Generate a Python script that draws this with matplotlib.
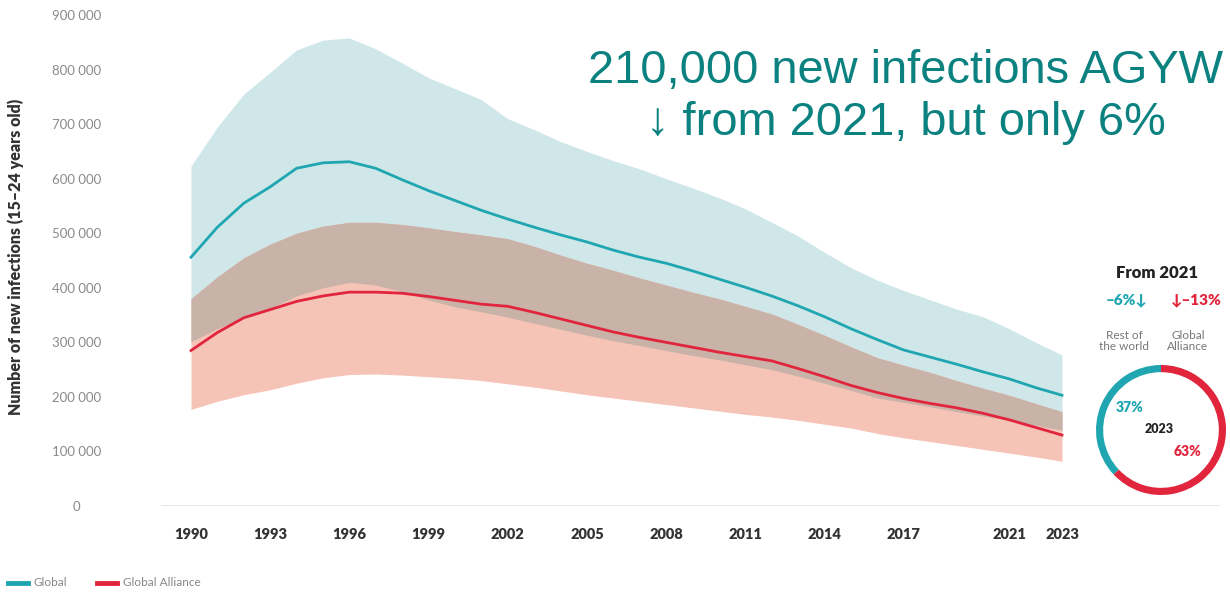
import numpy as np
import matplotlib
matplotlib.use("Agg")
import matplotlib.pyplot as plt

W, H = 1230, 592

years = np.arange(1990, 2024)

# new infections among 15-24 year olds, thousands
global_mid = [456, 511, 555, 585, 619, 629, 631, 619, 598, 578, 560, 542, 526, 511, 497, 484, 469, 456, 445, 431, 416, 401, 385, 367, 347, 325, 305, 286, 273, 260, 246, 233, 217, 203]
global_hi = [623, 695, 755, 795, 836, 854, 858, 838, 812, 785, 765, 745, 710, 690, 668, 650, 633, 618, 600, 583, 565, 545, 520, 495, 465, 437, 414, 395, 378, 361, 347, 325, 300, 277]
global_lo = [301, 325, 345, 362, 385, 400, 410, 405, 393, 378, 365, 356, 346, 335, 324, 313, 303, 294, 285, 276, 268, 259, 250, 238, 225, 212, 198, 190, 182, 173, 165, 157, 148, 139]

alliance_mid = [285, 318, 345, 360, 375, 385, 392, 392, 390, 384, 377, 370, 366, 355, 343, 331, 319, 309, 300, 291, 282, 274, 266, 252, 237, 221, 208, 197, 188, 180, 170, 158, 144, 130]
alliance_hi = [380, 420, 455, 480, 500, 513, 520, 520, 516, 510, 503, 497, 490, 476, 460, 445, 432, 418, 405, 392, 380, 366, 352, 333, 313, 292, 272, 258, 245, 230, 216, 203, 188, 173]
alliance_lo = [177, 192, 204, 213, 225, 235, 241, 242, 240, 237, 234, 230, 224, 218, 211, 204, 198, 192, 186, 180, 174, 168, 163, 157, 150, 143, 133, 125, 118, 111, 104, 97, 90, 82]

tick_years = [1990, 1993, 1996, 1999, 2002, 2005, 2008, 2011, 2014, 2017, 2021, 2023]
y_ticks = [0, 100000, 200000, 300000, 400000, 500000, 600000, 700000, 800000, 900000]

share_labels = ["Rest of\nthe world", "Global\nAlliance"]
share_2023 = [37, 63]
change_2021 = [-6, -13]

TEAL = "#1fa6b0"
RED = "#e1253d"
TEAL_BAND = "#d0e7ea"
RED_BAND = "#f6c3b7"
OVERLAP = "#c9b2a8"
TITLE = "#0b8280"

plt.rcParams['font.family'] = ['Lato', 'DejaVu Sans']


def fx(x):
    return x / W


def fy(y):
    return 1 - y / H


g_mid = np.array(global_mid) * 1000
g_hi = np.array(global_hi) * 1000
g_lo = np.array(global_lo) * 1000
a_mid = np.array(alliance_mid) * 1000
a_hi = np.array(alliance_hi) * 1000
a_lo = np.array(alliance_lo) * 1000

fig = plt.figure(figsize=(W / 100, H / 100), dpi=100)

# main axes: 1990 -> x=191px, 2023 -> x=1062px; 0 -> y=506px, 900k -> y=15px
x0, x1 = 161, 1220
px_per_year = (1062 - 191) / 33
xmin = 1990 - (191 - x0) / px_per_year
xmax = 2023 + (x1 - 1062) / px_per_year
ax = fig.add_axes([fx(x0), fy(506), (x1 - x0) / W, (506 - 15) / H])
ax.set_xlim(xmin, xmax)
ax.set_ylim(0, 900000)

ax.fill_between(years, g_lo, g_hi, color=TEAL_BAND, lw=0, zorder=1)
ax.fill_between(years, a_lo, a_hi, color=RED_BAND, lw=0, zorder=1)
ov_lo = np.maximum(g_lo, a_lo)
ov_hi = np.minimum(g_hi, a_hi)
ax.fill_between(years, ov_lo, ov_hi, where=ov_hi > ov_lo, color=OVERLAP, lw=0, zorder=2)

ax.plot(years, g_mid, color=TEAL, lw=2, zorder=3)
ax.plot(years, a_mid, color=RED, lw=2, zorder=3)

ax.axhline(0, color="#e3e3e3", lw=2, zorder=0)

for s in ax.spines.values():
    s.set_visible(False)

ax.set_xticks(tick_years)
ax.set_xticklabels([str(t) for t in tick_years], fontsize=10.5, fontweight='heavy', color="#333333")
ax.tick_params(axis='x', length=0, pad=16)

ax.set_yticks(y_ticks)
ax.set_yticklabels([f"{v:,}".replace(",", " ") for v in y_ticks], fontsize=9.5, color="#8a8a8a", ha='center')
ax.tick_params(axis='y', length=0, pad=61)

fig.text(fx(16), fy(257), "Number of new infections (15\u201324 years old)", rotation=90,
         ha='center', va='center', fontsize=11.5, fontweight='heavy', color="#333333")

# headline
fig.text(fx(906), fy(97), "210,000 new infections AGYW\n\u2193 from 2021, but only 6%",
         ha='center', va='center', fontsize=33.8, color=TITLE, linespacing=1.22,
         family=['Liberation Sans', 'DejaVu Sans'])

# 2023 split ring
cx, cy, r = 1161, 430, 65
dax = fig.add_axes([fx(cx - r), fy(cy + r), 2 * r / W, 2 * r / H])
dax.pie(share_2023, colors=[TEAL, RED], startangle=90, counterclock=True, radius=1,
        wedgeprops=dict(width=0.11, linewidth=0))
dax.set_xlim(-1, 1)
dax.set_ylim(-1, 1)
dax.axis('off')

fig.text(fx(1157), fy(273), "From 2021", ha='center', va='center', fontsize=12,
         fontweight='heavy', color="#222222")
fig.text(fx(1127), fy(300), f"\u2013{abs(change_2021[0])}%\u2193", ha='center', va='center',
         fontsize=11, fontweight='heavy', color=TEAL)
fig.text(fx(1196), fy(300), f"\u2193\u2013{abs(change_2021[1])}%", ha='center', va='center',
         fontsize=11, fontweight='heavy', color=RED)
fig.text(fx(1124), fy(341), share_labels[0], ha='center', va='center', fontsize=8.5,
         color="#777777", linespacing=1.1)
fig.text(fx(1188), fy(341), share_labels[1], ha='center', va='center', fontsize=8.5,
         color="#777777", linespacing=1.1)
fig.text(fx(1130), fy(408), f"{share_2023[0]}%", ha='center', va='center', fontsize=10,
         fontweight='heavy', color=TEAL)
fig.text(fx(1159), fy(429), "2023", ha='center', va='center', fontsize=9,
         fontweight='heavy', color="#222222")
fig.text(fx(1188), fy(451), f"{share_2023[1]}%", ha='center', va='center', fontsize=10,
         fontweight='heavy', color=RED)

# legend
fig.add_artist(plt.Line2D([fx(8), fx(28)], [fy(583), fy(583)], color=TEAL, lw=3.5))
fig.text(fx(34), fy(583), "Global", ha='left', va='center', fontsize=8.5, color="#888888")
fig.add_artist(plt.Line2D([fx(97), fx(117)], [fy(583), fy(583)], color=RED, lw=3.5))
fig.text(fx(123), fy(583), "Global Alliance", ha='left', va='center', fontsize=8.5, color="#888888")

fig.savefig("out.png", dpi=100)
